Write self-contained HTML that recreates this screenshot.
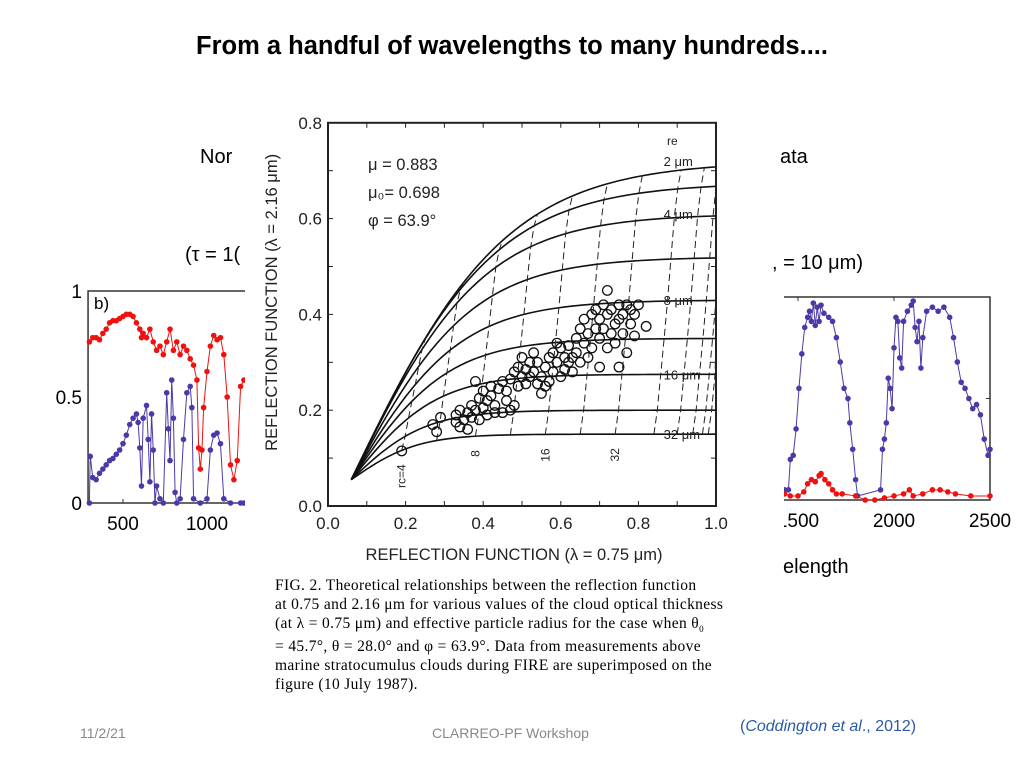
<!DOCTYPE html>
<html><head><meta charset="utf-8">
<style>
html,body{margin:0;padding:0;background:#fff;}
#slide{position:relative;width:1024px;height:768px;overflow:hidden;font-family:"Liberation Sans",sans-serif;}
.t{position:absolute;white-space:nowrap;}
</style></head>
<body>
<div id="slide">
<div class="t" style="left:0;width:1024px;text-align:center;top:32px;font-size:25.5px;font-weight:bold;">From a handful of wavelengths to many hundreds....</div>
<div class="t" style="left:200px;top:146px;font-size:20px;">Nor</div>
<div class="t" style="left:780px;top:146px;font-size:20px;">ata</div>
<div class="t" style="left:185px;top:244px;font-size:20px;">(τ = 1(</div>
<div class="t" style="left:772px;top:252px;font-size:20px;">, = 10 μm)</div>
<div class="t" style="left:783px;top:556px;font-size:20px;">elength</div>
<div class="t" style="left:80px;top:725px;font-size:14px;color:#888;">11/2/21</div>
<div class="t" style="left:432px;top:725px;font-size:14px;color:#888;">CLARREO-PF Workshop</div>
<div class="t" style="left:740px;top:718px;font-size:16px;color:#2a5aa8;">(<i>Coddington et al</i>., 2012)</div>
<svg id="chart" width="1024" height="768" style="position:absolute;left:0;top:0"></svg>
<div class="t" style="left:275px;top:577px;font-family:'Liberation Serif',serif;font-size:15.5px;letter-spacing:0.35px;line-height:18.8px;">FIG. 2. Theoretical relationships between the reflection function<br>at 0.75 and 2.16 μm for various values of the cloud optical thickness<br>(at λ = 0.75 μm) and effective particle radius for the case when θ<sub style="font-size:9px">0</sub><br>= 45.7°, θ = 28.0° and φ = 63.9°. Data from measurements above<br>marine stratocumulus clouds during FIRE are superimposed on the<br>figure (10 July 1987).</div>
</div>
<script>
// ---- Left spectrum panel data ----
const leftRedW=[300,320,340,360,380,400,420,440,460,480,500,520,540,560,580,600,610,620,640,660,680,700,720,740,760,780,800,820,840,860,880,900,920,940,950,960,970,980,1000,1020,1040,1060,1080,1100,1120,1140,1160,1180,1200,1220];
const leftRedV=[0.76,0.78,0.78,0.77,0.80,0.82,0.85,0.86,0.86,0.87,0.88,0.89,0.89,0.88,0.85,0.82,0.78,0.80,0.78,0.82,0.76,0.72,0.74,0.70,0.76,0.82,0.72,0.76,0.70,0.74,0.72,0.68,0.65,0.58,0.26,0.16,0.25,0.45,0.62,0.74,0.79,0.77,0.78,0.70,0.50,0.18,0.11,0.20,0.55,0.58];
const leftBlueW=[300,305,320,340,360,380,400,420,440,460,480,500,520,540,560,580,590,600,610,620,640,650,660,670,680,690,700,720,740,760,770,780,790,800,810,820,840,860,880,900,910,920,960,1000,1020,1040,1060,1080,1100,1140,1200,1220];
const leftBlueV=[0,0.22,0.12,0.11,0.14,0.16,0.18,0.20,0.21,0.23,0.25,0.28,0.32,0.37,0.40,0.42,0.38,0.26,0.08,0.40,0.46,0.30,0.10,0.42,0.25,0,0.08,0.02,0,0.52,0.35,0.20,0.58,0.40,0.05,0,0.02,0.30,0.52,0.55,0.45,0.02,0,0.02,0.25,0.32,0.33,0.28,0.02,0,0,0];
const leftTicksX=[500,1000];
const leftTicksY=[0,0.5,1];
// ---- Right spectrum panel data ----
const rightBlueW=[1430,1450,1460,1475,1490,1505,1520,1535,1550,1560,1570,1580,1590,1600,1610,1620,1635,1660,1680,1700,1720,1740,1760,1770,1785,1800,1810,1930,1940,1950,1960,1970,1980,1990,2000,2010,2020,2030,2040,2050,2070,2090,2100,2110,2120,2130,2140,2150,2170,2200,2230,2260,2290,2310,2330,2350,2370,2390,2410,2430,2450,2470,2490,2500];
const rightBlueV=[0.05,0.05,0.2,0.22,0.35,0.55,0.72,0.85,0.90,0.93,0.88,0.97,0.86,0.95,0.88,0.96,0.92,0.90,0.88,0.80,0.68,0.55,0.50,0.38,0.25,0.10,0.02,0.05,0.25,0.30,0.38,0.60,0.55,0.45,0.75,0.90,0.88,0.70,0.65,0.88,0.93,0.96,0.98,0.85,0.78,0.88,0.65,0.80,0.93,0.95,0.93,0.95,0.90,0.80,0.68,0.58,0.55,0.50,0.45,0.47,0.42,0.30,0.22,0.25];
const rightRedW=[1430,1460,1500,1530,1550,1570,1590,1610,1620,1640,1660,1680,1700,1730,1800,1850,1900,1950,2000,2050,2080,2100,2150,2200,2240,2280,2320,2400,2500];
const rightRedV=[0.03,0.02,0.02,0.04,0.08,0.10,0.09,0.12,0.13,0.10,0.08,0.05,0.03,0.03,0.02,0.0,0.0,0.01,0.02,0.03,0.05,0.02,0.03,0.05,0.05,0.04,0.03,0.02,0.02];
const rightTicksX=[1500,2000,2500];
// ---- Central reflection-function chart data ----
const reLabels=["2 μm","","4 μm","","8 μm","","16 μm","","32 μm"];
const rePlateau=[0.72,0.675,0.61,0.52,0.43,0.35,0.275,0.2,0.15];
const reScale=[0.40,0.37,0.34,0.31,0.28,0.25,0.22,0.19,0.17];
const tauBottomX=[0.19,0.28,0.38,0.47,0.56,0.65,0.74,0.84,0.90,0.94,0.965,0.98];
const tauLabels=["rc=4","","8","","16","","32","","","","",""];
const scatterX=[0.19,0.27,0.28,0.29,0.33,0.33,0.34,0.35,0.36,0.36,0.37,0.37,0.38,0.38,0.39,0.40,0.40,0.41,0.41,0.42,0.42,0.43,0.44,0.45,0.45,0.46,0.47,0.47,0.48,0.48,0.49,0.49,0.50,0.50,0.51,0.51,0.52,0.52,0.53,0.54,0.54,0.55,0.55,0.56,0.56,0.57,0.57,0.58,0.58,0.59,0.60,0.60,0.61,0.62,0.62,0.63,0.64,0.64,0.65,0.65,0.66,0.66,0.67,0.67,0.68,0.68,0.69,0.69,0.70,0.70,0.70,0.71,0.71,0.72,0.72,0.72,0.73,0.73,0.74,0.74,0.75,0.75,0.75,0.76,0.76,0.77,0.77,0.78,0.78,0.79,0.79,0.80,0.82,0.63,0.59,0.53,0.46,0.43,0.39,0.34,0.61];
const scatterY=[0.115,0.17,0.155,0.185,0.19,0.175,0.2,0.18,0.195,0.16,0.21,0.185,0.26,0.2,0.225,0.24,0.205,0.19,0.22,0.25,0.23,0.21,0.245,0.26,0.195,0.24,0.265,0.2,0.28,0.21,0.25,0.29,0.27,0.31,0.255,0.285,0.3,0.27,0.28,0.255,0.3,0.235,0.27,0.29,0.25,0.31,0.26,0.32,0.28,0.3,0.33,0.27,0.31,0.3,0.335,0.28,0.32,0.35,0.37,0.3,0.34,0.39,0.31,0.36,0.4,0.33,0.37,0.41,0.35,0.39,0.29,0.42,0.37,0.33,0.4,0.45,0.36,0.41,0.38,0.34,0.42,0.39,0.29,0.36,0.4,0.42,0.32,0.38,0.41,0.4,0.355,0.42,0.375,0.31,0.34,0.32,0.22,0.195,0.18,0.165,0.285];
const cTicks=[0,0.2,0.4,0.6,0.8,1.0];
const cTicksY=[0,0.2,0.4,0.6,0.8];

const NS="http://www.w3.org/2000/svg";
const svg=document.getElementById('chart');
function mk(tag,attrs,parent){const e=document.createElementNS(NS,tag);for(const k in attrs)e.setAttribute(k,attrs[k]);(parent||svg).appendChild(e);return e;}
const defs=mk('defs',{});
const cp=mk('clipPath',{id:'rclip'},defs);
mk('rect',{x:784,y:0,width:240,height:768},cp);

// Left panel
const lx=w=>123+(w-500)*0.168, ly=v=>503-212*v;
const lg=mk('g',{});


const lbox=mk('path',{d:`M245,${ly(1)} H${lx(292)} V${ly(0)} H245`,fill:'none',stroke:'#333','stroke-width':1.5},lg);


leftTicksX.forEach(t=>{
 const tx=mk('text',{x:lx(t),y:530,'font-size':19,'text-anchor':'middle'},lg);tx.textContent=t;
 
 
 mk('line',{x1:lx(t),x2:lx(t),y1:ly(0),y2:ly(0)-4,stroke:'#333'},lg);
});
leftTicksY.forEach(t=>{
 const ty=mk('text',{x:82,y:ly(t)+7,'font-size':19,'text-anchor':'end'},lg);ty.textContent=t===0.5?'0.5':t;
 
 
});
const bl=mk('text',{x:94,y:309,'font-size':17},lg);bl.textContent='b)';


function series(W,V,fx,fy,col,name,g){
 const p=mk('polyline',{points:W.map((w,i)=>fx(w)+','+fy(V[i])).join(' '),fill:'none',stroke:col,'stroke-width':1},g);
 
 
 W.forEach((w,i)=>{const c=mk('circle',{cx:fx(w),cy:fy(V[i]),r:2.8,fill:col},g);
  
  });
}
series(leftRedW,leftRedV,lx,ly,'#f01010','left-red-series',lg);
series(leftBlueW,leftBlueV,lx,ly,'#4a3aa8','left-blue-series',lg);

// Right panel
const rx=w=>894+(w-2000)*0.192, ry=v=>500-203*v;
const rg=mk('g',{'clip-path':'url(#rclip)'});


const rbox=mk('path',{d:`M750,${ry(1)} H${rx(2500)} V${ry(0)} H750`,fill:'none',stroke:'#333','stroke-width':1.5},rg);


mk('line',{x1:rx(2500),x2:rx(2500)-4,y1:ry(0.5),y2:ry(0.5),stroke:'#333'},rg);
rightTicksX.forEach(t=>{
 const tx=mk('text',{x:rx(t),y:527,'font-size':19,'text-anchor':'middle'},rg);tx.textContent=t;
 
 
 mk('line',{x1:rx(t),x2:rx(t),y1:ry(1),y2:ry(1)+4,stroke:'#333'},rg);
});
series(rightBlueW,rightBlueV,rx,ry,'#4a3aa8','right-blue-series',rg);
series(rightRedW,rightRedV,rx,ry,'#f01010','right-red-series',rg);

// Central figure
const cg=mk('g',{});


const bg=mk('rect',{x:245,y:108,width:505,height:587,fill:'#fff'},cg);


const cx=v=>328+388*v, cy=v=>506-479*v;
const X0=0.06,Y0=0.055;
const curveY=(i,x)=>x<=X0?Y0:Y0+(rePlateau[i]-Y0)*Math.tanh((x-X0)/reScale[i]);
const frame=mk('rect',{x:cx(0),y:cy(0.8),width:cx(1)-cx(0),height:cy(0)-cy(0.8),fill:'none',stroke:'#222','stroke-width':2},cg);


cTicks.forEach(t=>{
 const tx=mk('text',{x:cx(t),y:529,'font-size':17,'text-anchor':'middle',fill:'#222'},cg);tx.textContent=t.toFixed(1);
 
 
});
for(let t=0;t<=1.0001;t+=0.1){mk('line',{x1:cx(t),x2:cx(t),y1:cy(0),y2:cy(0)-5,stroke:'#222'},cg);mk('line',{x1:cx(t),x2:cx(t),y1:cy(0.8),y2:cy(0.8)+5,stroke:'#222'},cg);}
for(let t=0;t<=0.8001;t+=0.1){mk('line',{x1:cx(0),x2:cx(0)+5,y1:cy(t),y2:cy(t),stroke:'#222'},cg);mk('line',{x1:cx(1),x2:cx(1)-5,y1:cy(t),y2:cy(t),stroke:'#222'},cg);}
cTicksY.forEach(t=>{
 const ty=mk('text',{x:322,y:cy(t)+6,'font-size':17,'text-anchor':'end',fill:'#222'},cg);ty.textContent=t.toFixed(1);
 
 
});
const xt=mk('text',{x:cx(0.5)-8,y:560,'font-size':16.5,'text-anchor':'middle',fill:'#222'},cg);xt.textContent='REFLECTION FUNCTION (λ = 0.75 μm)';


const yt=mk('text',{x:0,y:0,'font-size':16.5,'text-anchor':'middle',fill:'#222',transform:`translate(277,${cy(0.4)-12}) rotate(-90)`},cg);yt.textContent='REFLECTION FUNCTION (λ = 2.16 μm)';


['μ  = 0.883','μ₀= 0.698','φ  = 63.9°'].forEach((s,i)=>{
 const p=mk('text',{x:368,y:170+i*28,'font-size':16.5,fill:'#222'},cg);p.textContent=s;
 
 
});
const rel=mk('text',{x:667,y:145,'font-size':12,fill:'#222'},cg);rel.textContent='re';


rePlateau.forEach((p,i)=>{
 const pts=[];for(let k=0;k<=60;k++){const x=X0+(1-X0)*k/60;pts.push(cx(x)+','+cy(curveY(i,x)));}
 const pl=mk('polyline',{points:pts.join(' '),fill:'none',stroke:'#111','stroke-width':1.6},cg);
 
 
 if(reLabels[i]){const l=mk('text',{x:cx(0.86)+2,y:cy(p)+5,'font-size':13,fill:'#222'},cg);l.textContent=reLabels[i];
  
  }
});
tauBottomX.forEach((xb,j)=>{
 const n=rePlateau.length;const pts=[];
 for(let i=n-1;i>=0;i--){const x=Math.min(1,xb+0.07*(n-1-i)/(n-1));pts.push(cx(x)+','+cy(curveY(i,x)));}
 const d=mk('polyline',{points:pts.join(' '),fill:'none',stroke:'#222','stroke-width':1,'stroke-dasharray':'7,4'},cg);
 
 
 if(tauLabels[j]){const t=mk('text',{x:0,y:0,'font-size':12,fill:'#222',transform:`translate(${cx(xb)+4},${cy(curveY(n-1,xb))+14}) rotate(-90)`,'text-anchor':'end'},cg);t.textContent=tauLabels[j];
  
  }
});
scatterX.forEach((x,i)=>{const c=mk('circle',{cx:cx(x),cy:cy(scatterY[i]),r:4.8,fill:'none',stroke:'#111','stroke-width':1.3},cg);
 
 });
</script>
</body></html>
